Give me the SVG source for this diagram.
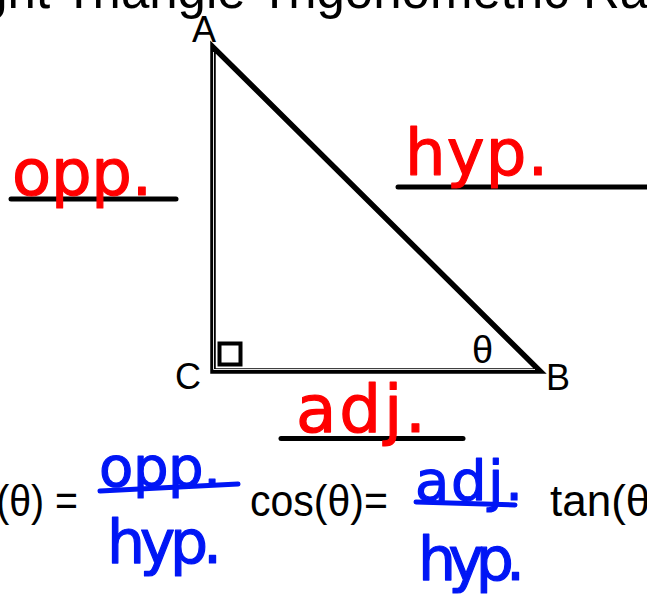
<svg xmlns="http://www.w3.org/2000/svg" width="647" height="599" viewBox="0 0 647 599">
<style>
.print{font-family:"Liberation Sans",Arial,sans-serif;fill:#000}
.hand{font-family:"DejaVu Sans","Noto Sans",sans-serif;stroke-width:1.2;stroke-linejoin:round}
.red{fill:#ff0000;stroke:#ff0000}
.blue{fill:#0016f5;stroke:#0016f5}
.rule{stroke:#000;stroke-width:5;stroke-linecap:round;fill:none}
.brule{stroke:#0016f5;stroke-width:5;stroke-linecap:round;fill:none}
</style>
<rect width="647" height="599" fill="#fff"/>
<g id="title">
<text class="print" x="-69" y="8" font-size="51">Right Triangle Trigonometric Ratios</text>
</g>
<g id="triangle">
<polygon points="213,47 213,371 540,371" fill="none" stroke="#000" stroke-width="5.5" stroke-linejoin="miter"/>
<polyline points="213.5,52 213.5,369.5 535,369.5" fill="none" stroke="#e6e6e6" stroke-width="1"/>
<rect x="219.5" y="343.5" width="21" height="21" fill="none" stroke="#000" stroke-width="4"/>
</g>
<g id="vertex-labels">
<text id="label-A" class="print" x="192" y="42" font-size="36">A</text>
<text id="label-C" class="print" x="175" y="389" font-size="36">C</text>
<text id="label-B" class="print" x="546" y="390" font-size="36">B</text>
<text id="label-theta" class="print" x="472" y="363" font-size="38">θ</text>
</g>
<g id="blank-lines">
<line class="rule" x1="11" y1="199" x2="176" y2="199"/>
<line class="rule" x1="398" y1="187" x2="650" y2="187"/>
<line class="rule" x1="281" y1="438.5" x2="463" y2="438.5"/>
</g>
<g id="red-notes">
<text class="hand red" x="12" y="195" font-size="64" textLength="140" lengthAdjust="spacing">opp.</text>
<text class="hand red" x="405" y="175" font-size="64" textLength="143" lengthAdjust="spacing">hyp.</text>
<text class="hand red" x="296" y="432" font-size="66" textLength="130" lengthAdjust="spacing">adj.</text>
</g>
<g id="formulas">
<text class="print" x="-54" y="516" font-size="44" textLength="132" lengthAdjust="spacingAndGlyphs">sin(θ) =</text>
<text class="print" x="250" y="516" font-size="44" textLength="138" lengthAdjust="spacingAndGlyphs">cos(θ)=</text>
<text class="print" x="550" y="516" font-size="44">tan(θ)=</text>
</g>
<g id="blue-notes">
<line class="brule" x1="100" y1="491" x2="238" y2="484"/>
<text class="hand blue" x="99" y="486" font-size="56" textLength="122" lengthAdjust="spacing">opp.</text>
<text class="hand blue" x="107" y="563" font-size="60" textLength="115" lengthAdjust="spacing">hyp.</text>
<line class="brule" x1="416" y1="502" x2="515" y2="505"/>
<text class="hand blue" x="415" y="500" font-size="56" textLength="108" lengthAdjust="spacing">adj.</text>
<text class="hand blue" x="418" y="580" font-size="60" textLength="107" lengthAdjust="spacing">hyp.</text>
</g>
</svg>
